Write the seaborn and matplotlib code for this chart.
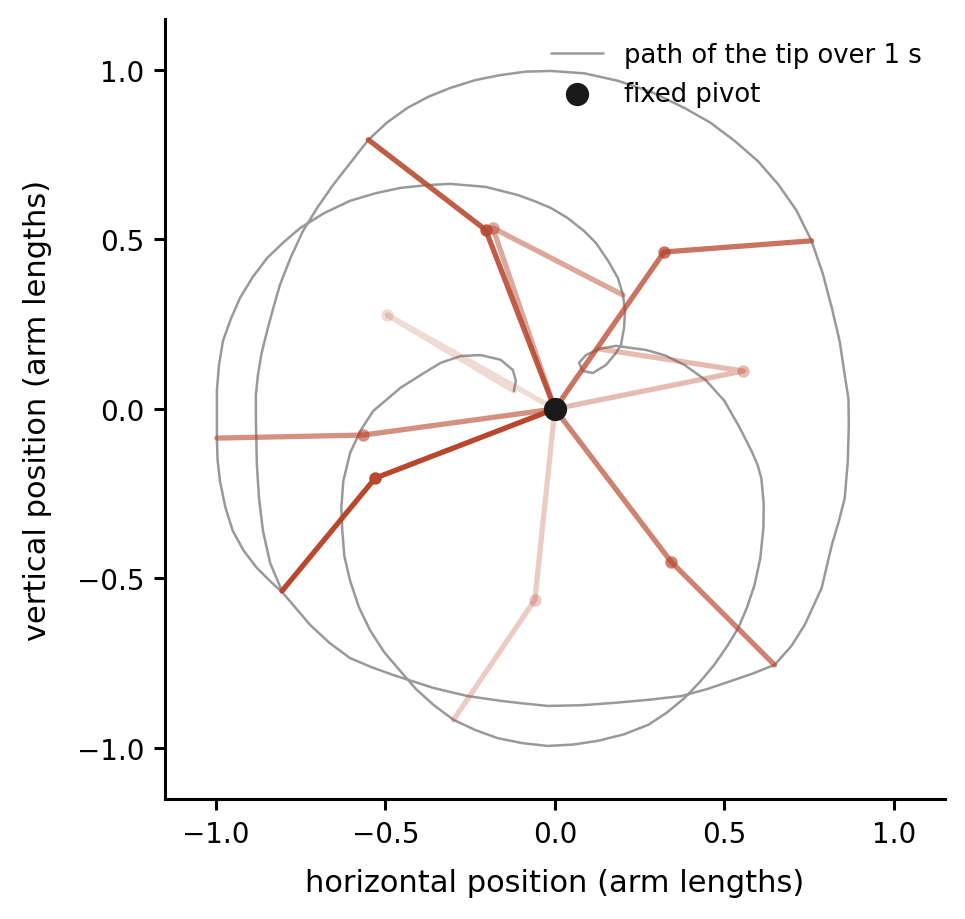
import numpy as np
import pandas as pd
import matplotlib
matplotlib.use("Agg")
import matplotlib.pyplot as plt
import seaborn as sns

#-----------------------------------------
# datos (en longitudes de brazo)
#-----------------------------------------

# trayectoria de la punta, en orden de tiempo
path_x = [-0.121, -0.115, -0.124, -0.160, -0.219, -0.278, -0.337, -0.396, -0.456, -0.491,
          -0.536, -0.574, -0.604, -0.624, -0.630, -0.627, -0.621, -0.604, -0.578, -0.544,
          -0.503, -0.456, -0.410, -0.358, -0.299, -0.235, -0.169, -0.095, -0.021, 0.053,
          0.127, 0.203, 0.275, 0.330, 0.382, 0.428, 0.470, 0.508, 0.541, 0.567,
          0.589, 0.606, 0.615, 0.616, 0.609, 0.598, 0.580, 0.545, 0.500, 0.445,
          0.382, 0.325, 0.269, 0.180, 0.130, 0.092, 0.071, 0.083, 0.112, 0.151,
          0.180, 0.195, 0.204, 0.207, 0.201, 0.186, 0.157, 0.121, 0.086, 0.038,
          -0.012, -0.060, -0.109, -0.204, -0.308, -0.380, -0.456, -0.530, -0.604, -0.680,
          -0.751, -0.800, -0.849, -0.892, -0.929, -0.956, -0.979, -0.991, -0.997, -0.997,
          -0.995, -0.988, -0.972, -0.950, -0.918, -0.879, -0.840, -0.802, -0.722, -0.665,
          -0.604, -0.540, -0.476, -0.358, -0.257, -0.160, -0.090, -0.021, 0.077, 0.175,
          0.275, 0.373, 0.450, 0.521, 0.585, 0.648, 0.697, 0.737, 0.787, 0.817,
          0.838, 0.855, 0.864, 0.867, 0.866, 0.855, 0.840, 0.817, 0.790, 0.757,
          0.713, 0.660, 0.600, 0.530, 0.458, 0.382, 0.287, 0.186, 0.087, -0.012,
          -0.086, -0.160, -0.235, -0.308, -0.373, -0.435, -0.495, -0.550, -0.600, -0.654,
          -0.700, -0.743, -0.780, -0.811, -0.830, -0.849, -0.865, -0.876, -0.882, -0.882,
          -0.879, -0.873, -0.861, -0.840, -0.805]
path_y = [0.053, 0.083, 0.115, 0.145, 0.159, 0.156, 0.136, 0.100, 0.062, 0.032,
          -0.006, -0.065, -0.130, -0.212, -0.292, -0.360, -0.434, -0.507, -0.585, -0.655,
          -0.718, -0.773, -0.826, -0.873, -0.917, -0.947, -0.971, -0.986, -0.994, -0.990,
          -0.979, -0.960, -0.932, -0.896, -0.853, -0.805, -0.755, -0.700, -0.646, -0.585,
          -0.519, -0.440, -0.351, -0.280, -0.204, -0.165, -0.124, -0.055, 0.024, 0.085,
          0.130, 0.158, 0.174, 0.186, 0.177, 0.159, 0.136, 0.112, 0.106, 0.130,
          0.165, 0.189, 0.239, 0.289, 0.336, 0.386, 0.437, 0.490, 0.525, 0.563,
          0.593, 0.613, 0.631, 0.655, 0.664, 0.660, 0.652, 0.636, 0.614, 0.578,
          0.534, 0.492, 0.445, 0.388, 0.327, 0.265, 0.201, 0.128, 0.053, -0.086,
          -0.150, -0.212, -0.290, -0.360, -0.418, -0.469, -0.508, -0.543, -0.637, -0.690,
          -0.735, -0.762, -0.785, -0.823, -0.847, -0.861, -0.869, -0.876, -0.874, -0.867,
          -0.858, -0.847, -0.826, -0.802, -0.780, -0.755, -0.700, -0.637, -0.528, -0.401,
          -0.330, -0.263, -0.155, -0.047, 0.030, 0.100, 0.200, 0.298, 0.400, 0.496,
          0.585, 0.661, 0.730, 0.791, 0.845, 0.888, 0.934, 0.968, 0.990, 0.997,
          0.995, 0.985, 0.970, 0.947, 0.921, 0.888, 0.845, 0.794, 0.730, 0.661,
          0.595, 0.525, 0.445, 0.366, 0.300, 0.230, 0.165, 0.100, 0.040, -0.027,
          -0.165, -0.260, -0.360, -0.454, -0.537]

# instantaneas del pendulo (codo y punta), de la primera a la ultima
elbow_x = [-0.494, -0.059, 0.556, -0.183, -0.565, 0.343, 0.322, -0.204, -0.530]
elbow_y = [0.277, -0.563, 0.112, 0.534, -0.077, -0.451, 0.463, 0.528, -0.204]
tip_x = [-0.121, -0.299, 0.130, 0.201, -0.997, 0.648, 0.757, -0.550, -0.805]
tip_y = [0.053, -0.917, 0.177, 0.336, -0.086, -0.755, 0.496, 0.794, -0.537]

pivot_x = [0.0]
pivot_y = [0.0]

# transparencia de cada instantanea (mas tarde = mas oscura)
arm_alpha = [0.2, 0.28, 0.36, 0.48, 0.6, 0.68, 0.76, 0.88, 1.0]
arm_color = "#b8472e"

#-----------------------------------------
# figura
#-----------------------------------------
sns.set_theme(style="ticks", rc={"text.color": "black", "axes.labelcolor": "black",
                                 "xtick.color": "black", "ytick.color": "black",
                                 "axes.edgecolor": "black"})
plt.rcParams['font.family'] = ['DejaVu Sans']

fig = plt.figure(figsize=(4.825, 4.6), dpi=200)
ax = fig.add_axes([0.171, 0.1304, 0.808, 0.848])

path_df = pd.DataFrame({"x": path_x, "y": path_y})
sns.lineplot(data=path_df, x="x", y="y", sort=False, estimator=None,
             color="0.6", lw=0.9, label="path of the tip over 1 s", ax=ax, zorder=2)

for i in range(len(elbow_x)):
    arm = pd.DataFrame({"x": [pivot_x[0], elbow_x[i], tip_x[i]],
                        "y": [pivot_y[0], elbow_y[i], tip_y[i]]})
    sns.lineplot(data=arm, x="x", y="y", sort=False, estimator=None,
                 color=arm_color, alpha=arm_alpha[i], lw=1.9, legend=False,
                 ax=ax, zorder=3)
    sns.scatterplot(x=[elbow_x[i]], y=[elbow_y[i]], color=arm_color,
                    alpha=arm_alpha[i], s=20, linewidth=0, legend=False,
                    ax=ax, zorder=4)

sns.scatterplot(x=pivot_x, y=pivot_y, color="#1a1a1a", s=70, linewidth=0,
                label="fixed pivot", ax=ax, zorder=5)

ax.set_xlim(-1.15, 1.15)
ax.set_ylim(-1.15, 1.15)
ax.set_aspect("equal")
ax.set_xticks([-1.0, -0.5, 0.0, 0.5, 1.0])
ax.set_yticks([-1.0, -0.5, 0.0, 0.5, 1.0])
ax.tick_params(labelsize=10, width=1.1, length=4)
for sp in ax.spines.values():
    sp.set_linewidth(1.1)
ax.set_xlabel("horizontal position (arm lengths)", fontsize=11, labelpad=7.5)
ax.set_ylabel("vertical position (arm lengths)", fontsize=11, labelpad=9)
sns.despine(ax=ax)

ax.legend(loc="upper right", frameon=False, fontsize=9.3)

plt.savefig("out.png", dpi=200)
